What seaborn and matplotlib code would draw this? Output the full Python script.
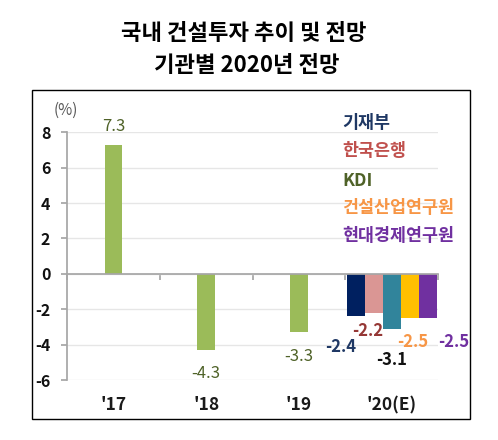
import numpy as np
import pandas as pd
import matplotlib
matplotlib.use('Agg')
import matplotlib.pyplot as plt
from matplotlib.patches import Rectangle
import seaborn as sns

# data
years = ["'17", "'18", "'19", "'20(E)"]
actual_years = ["'17", "'18", "'19"]
actual = [7.3, -4.3, -3.3]
institutions = ['기재부', '한국은행', 'KDI', '건설산업연구원', '현대경제연구원']
forecast_2020 = [-2.4, -2.2, -3.1, -2.5, -2.5]

green = '#9BBB59'
bar_colors = ['#002060', '#DA9694', '#31849B', '#FFC000', '#7030A0']
legend_colors = ['#1F3864', '#C0504D', '#4F6228', '#F79646', '#7030A0']
label_colors = ['#1F3864', '#953735', '#111111', '#F79646', '#7030A0']
# label offsets (pixels) from bar bottom
label_offsets = [(-15, -31), (-6, -18), (0, -31), (3, -24), (26, -24)]

sns.set_theme(style='white')
plt.rcParams['font.family'] = ['Noto Sans CJK KR', 'DejaVu Sans']

fig = plt.figure(figsize=(4.98, 4.40), dpi=100)
ax = fig.add_axes([67/498, 1 - 380/440, (438 - 67)/498, (380 - 132.3)/440])

df_act = pd.DataFrame({'year': actual_years, 'value': actual})
df_20 = pd.DataFrame({'year': ["'20(E)"] * 5, 'inst': institutions, 'value': forecast_2020})

sns.barplot(data=df_act, x='year', y='value', order=years, color=green,
            width=0.19, errorbar=None, linewidth=0, saturation=1, ax=ax)
sns.barplot(data=df_20, x='year', y='value', hue='inst', order=years,
            hue_order=institutions, palette=bar_colors, width=0.97, gap=0,
            dodge=True, errorbar=None, linewidth=0, saturation=1, legend=False, ax=ax)

ax.set_ylim(-6, 8)
ax.set_xlim(-0.5, 3.5)
ax.set_yticks(range(-6, 9, 2))
ax.set_yticklabels([str(v) for v in range(-6, 9, 2)], fontsize=11.5, fontweight='bold', color='#111111')
ax.set_xticks([-0.5, 0.5, 1.5, 2.5, 3.5])
ax.set_xticklabels([])
ax.set_xlabel('')
ax.set_ylabel('')
ax.yaxis.grid(True, color='#E6E6E6', lw=1)
ax.set_axisbelow(True)

for s in ['top', 'right']:
    ax.spines[s].set_visible(False)
ax.spines['left'].set_color('#A6A6A6')
ax.spines['bottom'].set_color('#A6A6A6')
ax.spines['bottom'].set_position(('data', 0))
ax.tick_params(axis='y', direction='out', length=4, color='#A6A6A6', pad=8, left=True)
ax.tick_params(axis='x', direction='out', length=4, color='#A6A6A6', bottom=True)

# category labels below the plot
for i, yr in enumerate(years):
    ax.annotate(yr, xy=(i, 1 - 405/440), xycoords=('data', 'figure fraction'),
                ha='center', va='center', fontsize=12.5, fontweight='bold', color='#1a1a1a')

# value labels for actual bars
for bar, v in zip(ax.containers[0], actual):
    cx = bar.get_x() + bar.get_width() / 2
    dy = 18 if v > 0 else -24
    ax.annotate(f'{v:.1f}', xy=(cx, v), xytext=(0, dy), textcoords='offset pixels',
                ha='center', va='center', fontsize=12, color='#4F6228', annotation_clip=False)

# value labels for 2020 forecasts
for cont, v, col, off in zip(ax.containers[1:], forecast_2020, label_colors, label_offsets):
    bar = cont[0] if len(cont) == 1 else cont[-1]
    cx = bar.get_x() + bar.get_width() / 2
    ax.annotate(f'{v:.1f}', xy=(cx, v), xytext=off, textcoords='offset pixels',
                ha='center', va='center', fontsize=12, fontweight='bold', color=col,
                annotation_clip=False)

ax.annotate('(%)', xy=(66/498, 1 - 110/440), xycoords='figure fraction',
            ha='center', va='center', fontsize=11, color='#595959')

# legend as coloured text
legend_y = [123, 151.5, 180.5, 208, 236]
for name, col, yy in zip(institutions, legend_colors, legend_y):
    fig.text(342/498, 1 - yy/440, name, ha='left', va='center', fontsize=12.5,
             fontweight='bold', color=col)

# title
fig.text(0.489, 1 - 33/440, '국내 건설투자 추이 및 전망', ha='center', va='center',
         fontsize=16, fontweight='bold', color='black')
fig.text(0.496, 1 - 65/440, '기관별 2020년 전망', ha='center', va='center',
         fontsize=16, fontweight='bold', color='black')

# outer frame
fig.add_artist(Rectangle((32/498, 1 - 419/440), (470 - 32)/498, (419 - 90)/440,
                         transform=fig.transFigure, fill=False, ec='black', lw=1))

fig.savefig('out.png', dpi=100)
